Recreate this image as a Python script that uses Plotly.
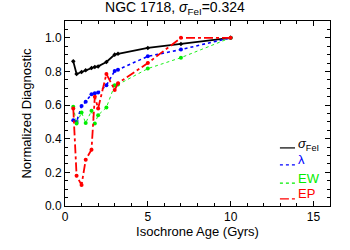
import plotly.graph_objects as go

ages = [0.5, 0.7, 1.0, 1.25, 1.6, 1.8, 2.0, 2.5, 3.0, 3.2, 5.0, 7.0, 10.0]
sigma_fei = [0.86, 0.785, 0.797, 0.807, 0.82, 0.827, 0.83, 0.856, 0.90, 0.905, 0.94, 0.963, 1.0]
lam = [0.51, 0.50, 0.595, 0.62, 0.665, 0.67, 0.675, 0.718, 0.803, 0.81, 0.89, 0.93, 1.0]
ew = [0.59, 0.49, 0.556, 0.494, 0.566, 0.49, 0.54, 0.586, 0.718, 0.722, 0.817, 0.882, 1.0]
ep = [0.58, 0.18, 0.125, 0.275, 0.335, 0.65, 0.58, 0.785, 0.69, 0.73, 0.85, 1.0, 1.0]
legend_names = ["<i>σ</i><sub>FeI</sub>", "λ", "EW", "EP"]

FONT = "Liberation Sans"
fig = go.Figure()

styles = [
    ("black", "solid", 1.8, "diamond", 3.5),
    ("#0000ff", "dot", 1.6, "circle", 4),
    ("#00ee00", "dot", 0.9, "circle", 4),
    ("#ff0000", "dashdot", 1.8, "circle", 4),
]
for ys, (col, dash, w, sym, ms) in zip([sigma_fei, lam, ew, ep], styles):
    fig.add_trace(go.Scatter(x=ages, y=ys, mode="lines+markers",
                             line=dict(color=col, dash=dash, width=w),
                             marker=dict(color=col, size=ms, symbol=sym),
                             showlegend=False))

# IDL-style legend: short line sample followed by coloured label
leg_line_y = [0.314, 0.222, 0.124, 0.038]
leg_text_y = [0.335, 0.254, 0.146, 0.065]
for name, (col, dash, w, sym, ms), ly, ty in zip(legend_names, styles, leg_line_y, leg_text_y):
    fig.add_shape(type="line", xref="paper", yref="paper", x0=0.811, x1=0.868, y0=ly, y1=ly,
                  line=dict(color=col, dash=dash, width=1.2))
    fig.add_annotation(xref="paper", yref="paper", x=0.872, y=ty, xanchor="left", yanchor="middle",
                       text=name, showarrow=False,
                       font=dict(family=FONT, size=13, color=col))

axis_common = dict(showline=True, linecolor="black", linewidth=1, mirror="ticks",
                   ticks="inside", ticklen=5, tickcolor="black", showgrid=False,
                   zeroline=False, automargin=False,
                   tickfont=dict(family=FONT, size=12, color="black"))
fig.update_xaxes(range=[0, 16], tick0=0, dtick=5,
                 minor=dict(ticks="inside", ticklen=3, dtick=1, tickcolor="black"),
                 title=dict(text="Isochrone Age (Gyrs)", font=dict(family=FONT, size=13, color="black"), standoff=2),
                 **axis_common)
fig.update_yaxes(range=[0, 1.1], tick0=0, dtick=0.2, tickformat=".1f",
                 minor=dict(ticks="inside", ticklen=3, dtick=0.05, tickcolor="black"),
                 title=dict(text="Normalized Diagnostic", font=dict(family=FONT, size=13, color="black"), standoff=10),
                 **axis_common)

fig.update_layout(
    width=350, height=250,
    margin=dict(l=65, r=20, t=21, b=44),
    paper_bgcolor="white", plot_bgcolor="white",
    showlegend=False,
    title=dict(text="NGC 1718, <i>σ</i><sub>FeI</sub>=0.324", x=0.5, xanchor="center",
               y=0.99, yanchor="top", font=dict(family=FONT, size=14, color="black")),
)
fig.write_html("out.html", config={"displayModeBar": False},
               post_script="document.body.style.margin='0';")
